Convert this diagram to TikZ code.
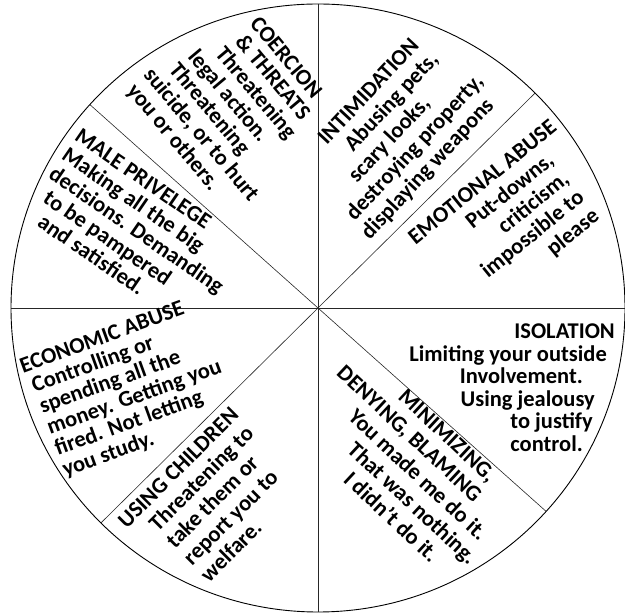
\documentclass[tikz,border=0pt]{standalone}
\usepackage{fontspec}
\setmainfont{Carlito}
\usepackage{tikz}

\tikzset{
  spoke/.style={draw=black!85, line width=0.6pt},
  wedge/.style={inner sep=0pt, font=\bfseries\fontsize{22.5}{23.5}\selectfont}
}

\begin{document}
\begin{tikzpicture}[x=1pt, y=1pt]
  \useasboundingbox (0,0) rectangle (625,616);
  \coordinate (O) at (318,308);
  \path (O) +(90:307 and 304)   coordinate (top)
            +(270:307 and 304)  coordinate (bottom)
            +(0:307 and 304)    coordinate (right)
            +(180:307 and 304)  coordinate (left)
            +(45:307 and 304)   coordinate (ne)
            +(225:307 and 304)  coordinate (sw)
            +(138:307 and 304)  coordinate (nw)
            +(-42:307 and 304)  coordinate (se);
  \draw [line width=0.9pt] (O) ellipse [x radius=307pt, y radius=304pt];
  \draw [spoke] (top) -- (bottom);
  \draw [spoke] (left) -- (right);
  \draw [spoke] (ne) -- (sw);
  \draw [spoke] (nw) -- (se);

  \node [wedge, align=center, rotate=-50, font=\bfseries\fontsize{22.5}{22.9}\selectfont] (coercion) at (232.5,513.5)
    {COERCION\\\hspace*{13pt}\& THREATS\\\hspace*{15pt}Threatening\\legal action.\kern15pt\\Threatening\kern20pt\\\hspace*{9pt}suicide, or to hurt\\you or others.\kern23pt};
  \node [wedge, align=left, rotate=-34.5, font=\bfseries\fontsize{22.5}{23}\selectfont] (privelege) at (136.6,385.9)
    {MALE PRIVELEGE\\Making all the big\\decisions. Demanding\\\hspace*{9pt}to be pampered\\\hspace*{18pt}and satisfied.};
  \node [wedge, align=center, rotate=47, font=\bfseries\fontsize{22.5}{24}\selectfont] (intimidation) at (398,484)
    {\hspace*{19pt}INTIMIDATION\\\hspace*{35pt}Abusing pets,\\scary looks,\kern23pt\\destroying property,\\displaying weapons\kern14pt};
  \node [wedge, align=right, rotate=39, font=\bfseries\fontsize{22.5}{24}\selectfont] (emotional) at (504.5,388.4)
    {EMOTIONAL ABUSE\kern-23pt\\Put-downs,\\criticism,\\impossible to\\please};
  \node [wedge, align=right, anchor=north east, font=\bfseries\fontsize{22.5}{22.5}\selectfont] (isolation) at (607,292)
    {ISOLATION\kern-8pt\\Limiting your outside\\Involvement.\kern24pt\\Using jealousy\kern12pt\\to justify\kern14pt\\control.\kern24pt};
  \node [wedge, align=center, rotate=-43, font=\bfseries\fontsize{22.5}{24.5}\selectfont] (minimizing) at (418,141)
    {MINIMIZING,\kern11pt\\DENYING, BLAMING\kern69pt\\You made me do it.\\\hspace*{30pt}That was nothing.\\\hspace*{18pt}I didn’t do it.};
  \node [wedge, align=left, rotate=20, font=\bfseries\fontsize{22.5}{22.4}\selectfont] (economic) at (130.8,228.4)
    {\hspace*{-4.5pt}ECONOMIC ABUSE\\Controlling or\\spending all the\\money. Getting you\\fired. Not letting\\you study.};
  \node [wedge, align=left, rotate=45, font=\bfseries\fontsize{22.5}{24.1}\selectfont] (children) at (219.3,121.3)
    {\hspace*{-20pt}USING CHILDREN\\Threatening to\\take them or\\report you to\\welfare.};
\end{tikzpicture}
\end{document}
